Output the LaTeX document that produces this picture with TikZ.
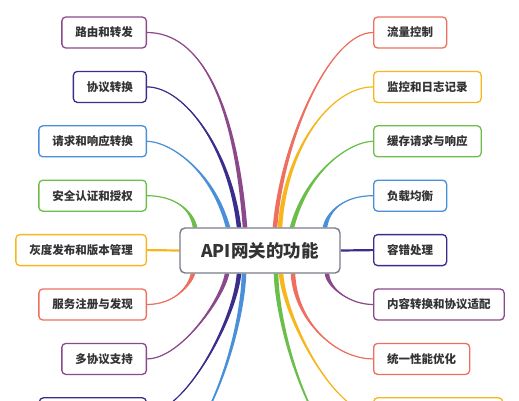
\documentclass[tikz,border=0pt]{standalone}
\usepackage{fontspec}
\setmainfont{Noto Sans CJK SC}
\usetikzlibrary{calc,backgrounds}
\definecolor{cpur}{RGB}{139,72,139}
\definecolor{cnavy}{RGB}{58,46,140}
\definecolor{cblue}{RGB}{74,144,217}
\definecolor{cgreen}{RGB}{108,190,74}
\definecolor{cyel}{RGB}{248,182,30}
\definecolor{csal}{RGB}{238,110,95}
\definecolor{cgray}{RGB}{120,126,135}
\definecolor{ctxt}{RGB}{51,51,51}
\newcommand\branch[5]{%
  \fill[#1] (#2) .. controls (#3) and ($(#4)+(1.8,0)$) .. ($(#5)+(2.3,0)$) -- ($(#5)+(-2.3,0)$) .. controls ($(#4)+(-1.8,0)$) and (#3) .. (#2) -- cycle;
  \draw[#1,line width=1.2pt] (#2) .. controls (#3) and (#4) .. (#5);}
\tikzset{
  leaf/.style={rounded corners=4pt, line width=1.3pt, fill=white, minimum height=31pt,
    inner xsep=13.5pt, inner ysep=0pt, text=ctxt, font=\fontsize{11.5}{12}\selectfont\bfseries},
  lleaf/.style={leaf, anchor=east},
  rleaf/.style={leaf, anchor=west},
  hub/.style={draw=cgray, line width=1.4pt, rounded corners=5pt, fill=white, minimum width=160pt,
    minimum height=45pt, text=ctxt, font=\fontsize{17.5}{20}\selectfont\bfseries}
}
\begin{document}
\begin{tikzpicture}[x=1pt,y=-1pt]
\useasboundingbox (0,0) rectangle (519,400);
\node[hub] (c) at (260,250.5) {API网关的功能};
% left
\node[lleaf,draw=cpur]   (l1) at (147,32.5)  {路由和转发};
\node[lleaf,draw=cnavy]  (l2) at (147,86.9)  {协议转换};
\node[lleaf,draw=cblue]  (l3) at (147,141.3) {请求和响应转换};
\node[lleaf,draw=cgreen] (l4) at (147,195.7) {安全认证和授权};
\node[lleaf,draw=cyel]   (l5) at (147,250.1) {灰度发布和版本管理};
\node[lleaf,draw=csal]   (l6) at (147,304.5) {服务注册与发现};
\node[lleaf,draw=cpur]   (l7) at (147,358.9) {多协议支持};
\node[lleaf,draw=cnavy,minimum width=107pt] (l8) at (147,413.3) {};
% right
\node[rleaf,draw=csal]   (r1) at (373,32.5)  {流量控制};
\node[rleaf,draw=cyel]   (r2) at (373,86.9)  {监控和日志记录};
\node[rleaf,draw=cgreen] (r3) at (373,141.3) {缓存请求与响应};
\node[rleaf,draw=cblue]  (r4) at (373,195.7) {负载均衡};
\node[rleaf,draw=cnavy]  (r5) at (373,250.1) {容错处理};
\node[rleaf,draw=cpur]   (r6) at (373,304.5) {内容转换和协议适配};
\node[rleaf,draw=csal]   (r7) at (373,358.9) {统一性能优化};
\node[rleaf,draw=cyel,minimum width=129pt] (r8) at (373,413.3) {};
% end points on hub
\coordinate (t1) at ($(c.north)+(-15,0)$);
\coordinate (t2) at ($(c.north)+(-21,0)$);
\coordinate (t3) at ($(c.north)+(-32,0)$);
\coordinate (t4) at ($(c.north)+(-65,0)$);
\coordinate (b6) at ($(c.south)+(-67,0)$);
\coordinate (b7) at ($(c.south)+(-33,0)$);
\coordinate (b8) at ($(c.south)+(-21,0)$);
\coordinate (b9) at ($(c.south)+(-16,0)$);
\coordinate (u1) at ($(c.north)+(15,0)$);
\coordinate (u2) at ($(c.north)+(20,0)$);
\coordinate (u3) at ($(c.north)+(32,0)$);
\coordinate (u4) at ($(c.north)+(65,0)$);
\coordinate (v6) at ($(c.south)+(67,0)$);
\coordinate (v7) at ($(c.south)+(33,0)$);
\coordinate (v8) at ($(c.south)+(21,0)$);
\coordinate (v9) at ($(c.south)+(16,0)$);
\coordinate (l9) at (147,468);
\coordinate (r9) at (373,468);
\begin{scope}[on background layer]
\branch{cpur}{l1.east}{200,32.5}{235,100}{t1}
\branch{cnavy}{l2.east}{185,86.9}{230,150}{t2}
\branch{cblue}{l3.east}{168,141.3}{212,168}{t3}
\branch{cgreen}{l4.east}{175,195.7}{192,210}{t4}
\draw[cyel,line width=2.2pt] (l5.east) -- (c.west);
\branch{csal}{l6.east}{175,304.5}{190,285}{b6}
\branch{cpur}{l7.east}{180,358.9}{222,300}{b7}
\branch{cnavy}{l8.east}{185,413.3}{235,320}{b8}
\branch{cblue}{l9}{200,468}{242,340}{b9}
\branch{csal}{r1.west}{330,32.5}{282,140}{u1}
\branch{cyel}{r2.west}{330,86.9}{285,150}{u2}
\branch{cgreen}{r3.west}{352,141.3}{308,168}{u3}
\branch{cblue}{r4.west}{345,195.7}{328,210}{u4}
\draw[cnavy,line width=2.2pt] (c.east) -- (r5.west);
\branch{cpur}{r6.west}{350,304.5}{328,288}{v6}
\branch{csal}{r7.west}{335,358.9}{295,320}{v7}
\branch{cyel}{r8.west}{335,413.3}{285,320}{v8}
\branch{cgreen}{r9}{320,468}{278,340}{v9}
\end{scope}
\end{tikzpicture}
\end{document}
